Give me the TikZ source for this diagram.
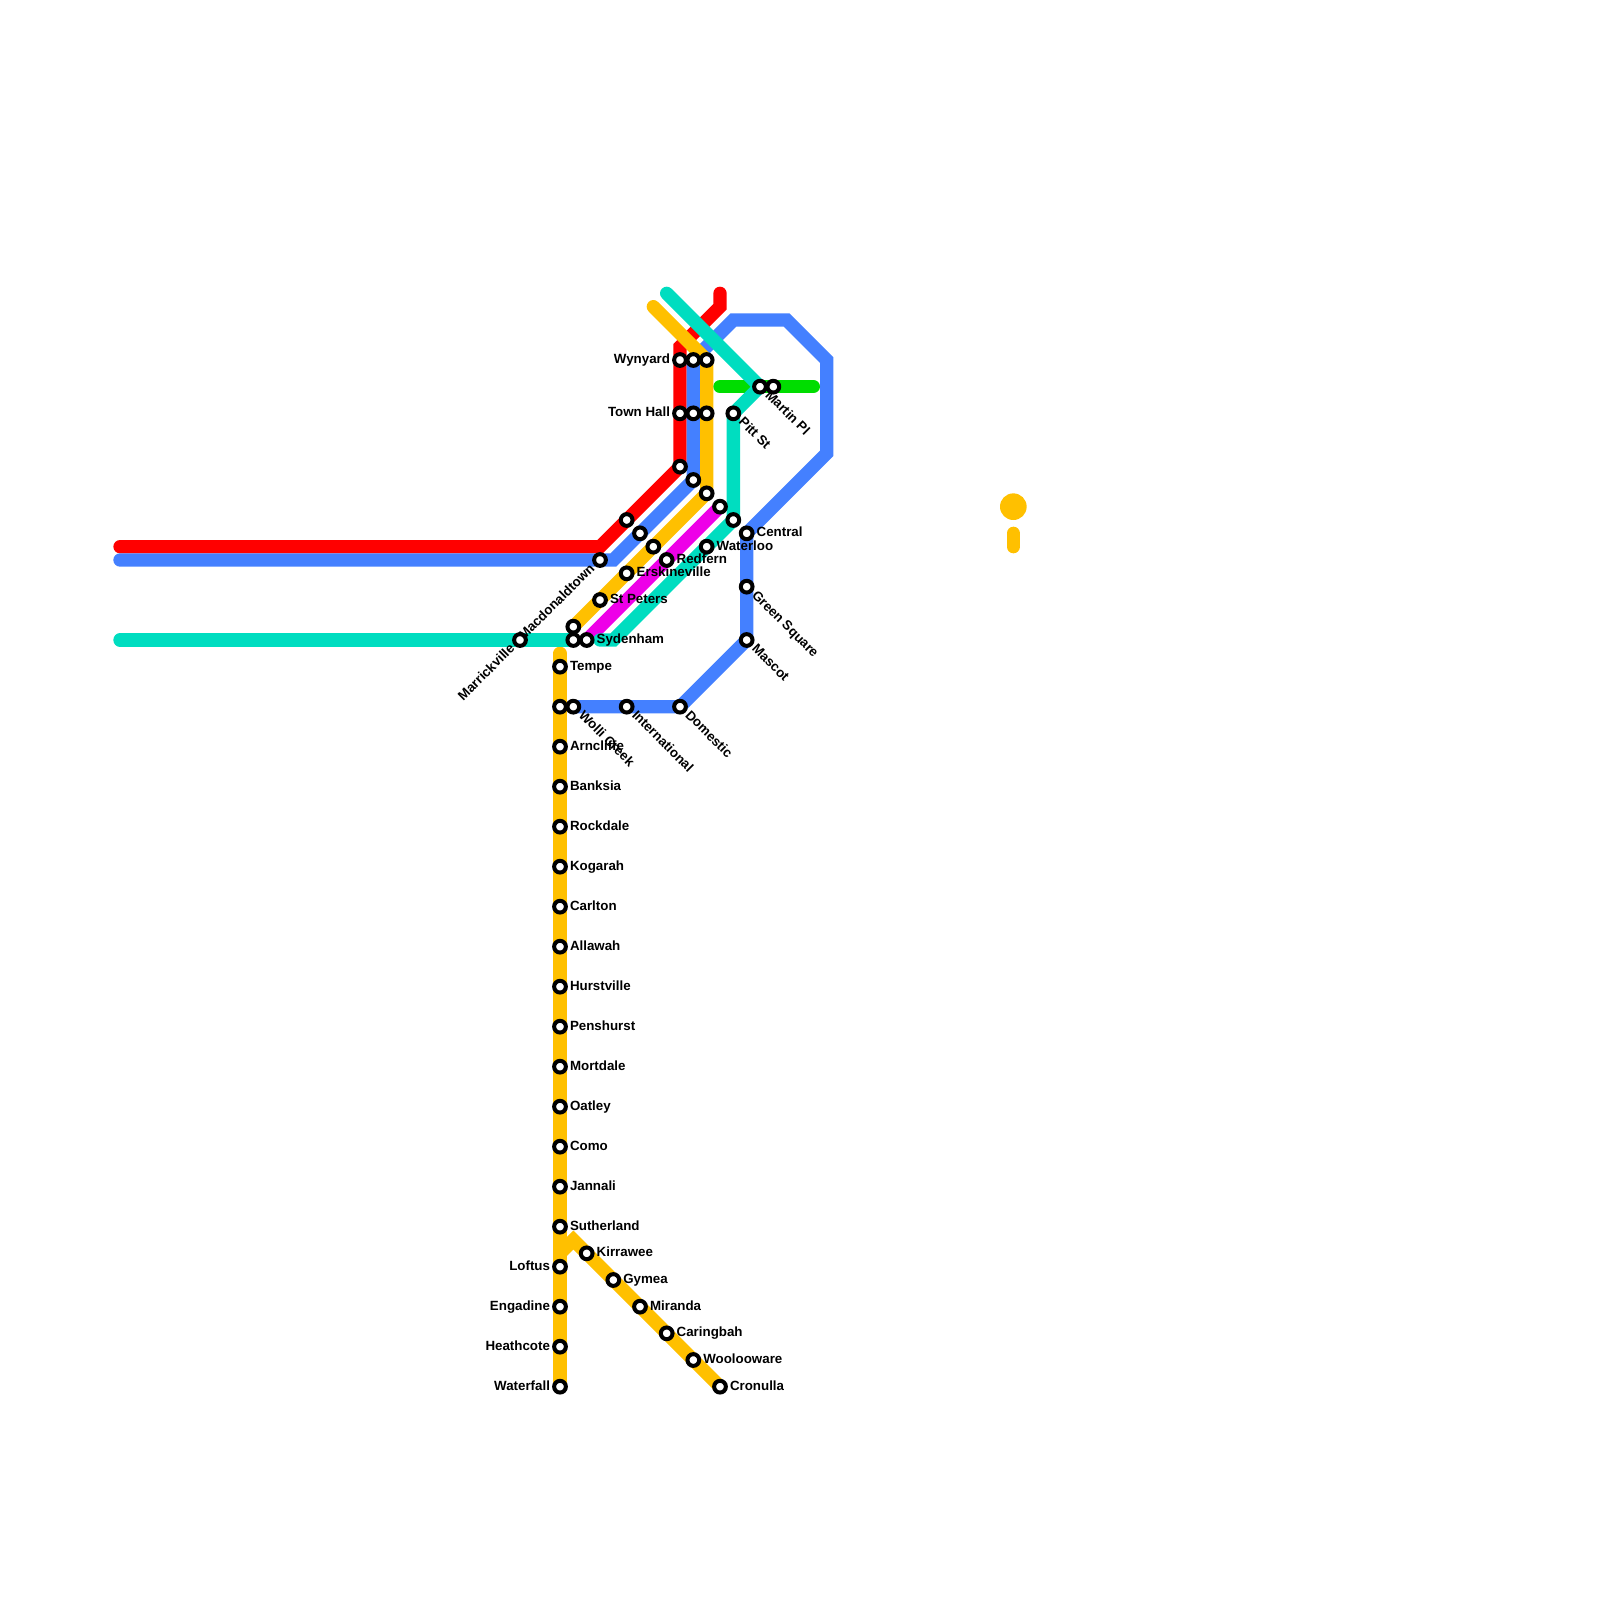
\documentclass[tikz,border=0pt]{standalone}
\usepackage{fontspec}
\setmainfont{Liberation Sans}
\definecolor{mred}{HTML}{FF0000}
\definecolor{mblue}{HTML}{4480FF}
\definecolor{myellow}{HTML}{FFC000}
\definecolor{mmagenta}{HTML}{EE00E8}
\definecolor{mteal}{HTML}{00DDC0}
\definecolor{mgreen}{HTML}{00DD00}
\pgfdeclarelayer{lines}
\pgfsetlayers{lines,main}
\tikzset{
  metro/.style={line width=10pt,line cap=round,line join=miter},
  stn/.style={circle,draw=black,fill=white,line width=3pt,minimum size=8.8pt,inner sep=0pt,outer sep=0pt},
  lbl/.style={font=\fontsize{10}{12}\selectfont\bfseries,inner sep=0pt,outer sep=0pt,text=black},
  lblR/.style={lbl,anchor=base west,xshift=7.5pt,yshift=-2.5pt},
  lblL/.style={lbl,anchor=base east,xshift=-7.5pt,yshift=-2.5pt},
  lblD/.style={lbl,rotate=-45,anchor=base west,xshift=7.5pt,yshift=-2.5pt},
  lblU/.style={lbl,rotate=45,anchor=base east,xshift=-7.5pt,yshift=-2.5pt},
}
\newcommand{\St}[3]{\node[stn] (#1) at (#2,#3) {};}
\newcommand{\Lb}[4]{\node[#1] (t#2) at (#2) {#4};}
\begin{document}
\begin{tikzpicture}[x=10pt,y=-10pt]
\useasboundingbox (0,0) rectangle (120,120);
% bends and free ends
\coordinate (rA) at (9,41);  \coordinate (rB) at (45,41); \coordinate (rC) at (51,26);
\coordinate (rD) at (54,23); \coordinate (rE) at (54,22);
\coordinate (bA) at (9,42);  \coordinate (bB) at (46,42); \coordinate (bC) at (55,24);
\coordinate (bD) at (59,24); \coordinate (bE) at (62,27); \coordinate (bF) at (62,34);
\coordinate (yA) at (49,23);
\coordinate (yB) at (42,49); \coordinate (yC) at (42,94); \coordinate (yD) at (43,93);
\coordinate (tA) at (9,48);  \coordinate (tB) at (45,48); \coordinate (tC) at (46,48);
\coordinate (tD) at (50,22);
\coordinate (gA) at (54,29); \coordinate (gB) at (61,29);
\coordinate (pA) at (76,40); \coordinate (pB) at (76,41);
% stations
\St{wa}{51}{27}\St{wb}{52}{27}\St{wc}{53}{27}
\St{ha}{51}{31}\St{hb}{52}{31}\St{hc}{53}{31}
\St{da}{51}{35}\St{db}{52}{36}\St{dc}{53}{37}\St{dd}{54}{38}\St{de}{55}{39}
\St{ea}{47}{39}\St{eb}{48}{40}\St{ec}{49}{41}
\St{Macdonaldtown}{45}{42}\St{Marrickville}{39}{48}
\St{Erskineville}{47}{43}\St{StPeters}{45}{45}\St{Redfern}{50}{42}\St{Waterloo}{53}{41}
\St{Central}{56}{40}\St{GreenSquare}{56}{44}\St{Mascot}{56}{48}
\St{Domestic}{51}{53}\St{International}{47}{53}\St{WolliCreek}{43}{53}\St{wt}{42}{53}
\St{ya}{43}{47}\St{yb}{43}{48}\St{Sydenham}{44}{48}
\St{PittSt}{55}{31}\St{MartinPl}{57}{29}\St{mp}{58}{29}
\St{Tempe}{42}{50}\St{Arncliffe}{42}{56}\St{Banksia}{42}{59}\St{Rockdale}{42}{62}
\St{Kogarah}{42}{65}\St{Carlton}{42}{68}\St{Allawah}{42}{71}\St{Hurstville}{42}{74}
\St{Penshurst}{42}{77}\St{Mortdale}{42}{80}\St{Oatley}{42}{83}\St{Como}{42}{86}
\St{Jannali}{42}{89}\St{Sutherland}{42}{92}\St{Loftus}{42}{95}\St{Engadine}{42}{98}
\St{Heathcote}{42}{101}\St{Waterfall}{42}{104}
\St{Kirrawee}{44}{94}\St{Gymea}{46}{96}\St{Miranda}{48}{98}\St{Caringbah}{50}{100}
\St{Woolooware}{52}{102}\St{Cronulla}{54}{104}
% lines
\begin{pgfonlayer}{lines}
\draw[metro,mred] (rA)--(rB)--(ea.center)--(da.center)--(ha.center)--(wa.center)--(rC)--(rD)--(rE);
\draw[metro,mblue] (bA)--(Macdonaldtown.center)--(bB)--(eb.center)--(db.center)--(hb.center)--(wb.center)--(bC)--(bD)--(bE)--(bF)--(Central.center)--(GreenSquare.center)--(Mascot.center)--(Domestic.center)--(International.center)--(WolliCreek.center);
\draw[metro,myellow] (yA)--(wc.center)--(hc.center)--(dc.center)--(ec.center)--(Erskineville.center)--(StPeters.center)--(ya.center);
\draw[metro,myellow] (yB)--(Tempe.center)--(wt.center)--(Waterfall.center);
\draw[metro,myellow] (yC)--(yD)--(Kirrawee.center)--(Cronulla.center);
\draw[metro,mmagenta] (dd.center)--(Redfern.center)--(Sydenham.center);
\draw[metro,mgreen] (gA)--(gB);
\draw[metro,mteal] (tA)--(Marrickville.center)--(yb.center);
\draw[metro,mteal] (tB)--(tC)--(Waterloo.center)--(de.center)--(PittSt.center)--(MartinPl.center)--(tD);
\draw[metro,myellow] (pA)--(pB);
\end{pgfonlayer}
\node[circle,fill=myellow,minimum size=20pt,inner sep=0pt,outer sep=0pt] (legendDot) at (76,38) {};
% labels
\Lb{lblL}{wa}{}{Wynyard}
\Lb{lblL}{ha}{}{Town Hall}
\Lb{lblL}{Loftus}{}{Loftus}
\Lb{lblL}{Engadine}{}{Engadine}
\Lb{lblL}{Heathcote}{}{Heathcote}
\Lb{lblL}{Waterfall}{}{Waterfall}
\Lb{lblU}{Macdonaldtown}{}{Macdonaldtown}
\Lb{lblU}{Marrickville}{}{Marrickville}
\Lb{lblD}{PittSt}{}{Pitt St}
\Lb{lblD}{MartinPl}{}{Martin Pl}
\Lb{lblD}{GreenSquare}{}{Green Square}
\Lb{lblD}{Mascot}{}{Mascot}
\Lb{lblD}{Domestic}{}{Domestic}
\Lb{lblD}{International}{}{International}
\Lb{lblD}{WolliCreek}{}{Wolli Creek}
\Lb{lblR}{Central}{}{Central}
\Lb{lblR}{Waterloo}{}{Waterloo}
\Lb{lblR}{Redfern}{}{Redfern}
\Lb{lblR}{Erskineville}{}{Erskineville}
\Lb{lblR}{StPeters}{}{St Peters}
\Lb{lblR}{Sydenham}{}{Sydenham}
\Lb{lblR}{Tempe}{}{Tempe}
\Lb{lblR}{Arncliffe}{}{Arncliffe}
\Lb{lblR}{Banksia}{}{Banksia}
\Lb{lblR}{Rockdale}{}{Rockdale}
\Lb{lblR}{Kogarah}{}{Kogarah}
\Lb{lblR}{Carlton}{}{Carlton}
\Lb{lblR}{Allawah}{}{Allawah}
\Lb{lblR}{Hurstville}{}{Hurstville}
\Lb{lblR}{Penshurst}{}{Penshurst}
\Lb{lblR}{Mortdale}{}{Mortdale}
\Lb{lblR}{Oatley}{}{Oatley}
\Lb{lblR}{Como}{}{Como}
\Lb{lblR}{Jannali}{}{Jannali}
\Lb{lblR}{Sutherland}{}{Sutherland}
\Lb{lblR}{Kirrawee}{}{Kirrawee}
\Lb{lblR}{Gymea}{}{Gymea}
\Lb{lblR}{Miranda}{}{Miranda}
\Lb{lblR}{Caringbah}{}{Caringbah}
\Lb{lblR}{Woolooware}{}{Woolooware}
\Lb{lblR}{Cronulla}{}{Cronulla}
\end{tikzpicture}
\end{document}
